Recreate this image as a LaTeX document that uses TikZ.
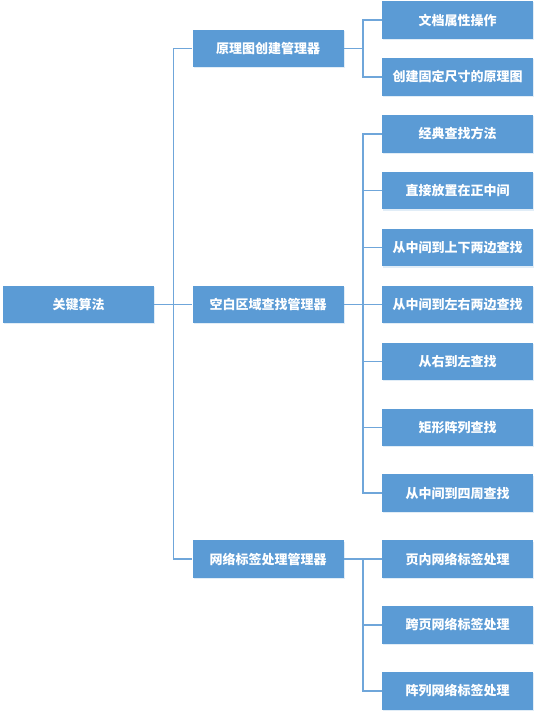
\documentclass[tikz,border=0pt]{standalone}
\usepackage{fontspec}
\setmainfont{Noto Sans CJK SC}
\usepackage{xcolor}
\usetikzlibrary{positioning, calc, shadows}
\definecolor{boxblue}{HTML}{5B9BD5}
\definecolor{lineblue}{HTML}{6FA6DA}

\begin{document}
\begin{tikzpicture}[
  x=1pt, y=1pt,
  every node/.style={font=\fontsize{13}{15}\selectfont\bfseries},
  box/.style={fill=boxblue, text=white, minimum width=151pt, minimum height=37.5pt, inner sep=0pt,
    drop shadow={shadow xshift=1pt, shadow yshift=-1.2pt, opacity=0.18, fill=boxblue}},
  link/.style={draw=lineblue, line width=1.5pt}
]
  \useasboundingbox (0,0) rectangle (538,-718);

  % leaf boxes
  \node[box] (c1) at (457.5,-20) {文档属性操作};
  \node[box, below=19pt of c1] (c2) {创建固定尺寸的原理图};
  \node[box, below=19pt of c2] (c3) {经典查找方法};
  \node[box, below=19pt of c3] (c4) {直接放置在正中间};
  \node[box, below=19pt of c4] (c5) {从中间到上下两边查找};
  \node[box, below=19pt of c5] (c6) {从中间到左右两边查找};
  \node[box, below=19pt of c6] (c7) {从右到左查找};
  \node[box, below=28pt of c7] (c8) {矩形阵列查找};
  \node[box, below=28pt of c8] (c9) {从中间到四周查找};
  \node[box, below=28pt of c9] (c10) {页内网络标签处理};
  \node[box, below=28pt of c10] (c11) {跨页网络标签处理};
  \node[box, below=28pt of c11] (c12) {阵列网络标签处理};

  % managers and root
  \node[box, left=38pt of $(c1.west)!0.5!(c2.west)$] (mgrA) {原理图创建管理器};
  \node[box, left=38pt of c6] (mgrB) {空白区域查找管理器};
  \node[box, left=38pt of c10] (mgrC) {网络标签处理管理器};
  \node[box, left=38pt of mgrB] (root) {关键算法};

  \foreach \m in {mgrA,mgrB,mgrC}
    \draw[link] (root.east) -- ++(19,0) |- (\m.west);
  \foreach \c in {c1,c2}
    \draw[link] (mgrA.east) -- ++(19,0) |- (\c.west);
  \foreach \c in {c3,c4,c5,c6,c7,c8,c9}
    \draw[link] (mgrB.east) -- ++(19,0) |- (\c.west);
  \foreach \c in {c10,c11,c12}
    \draw[link] (mgrC.east) -- ++(19,0) |- (\c.west);
\end{tikzpicture}
\end{document}
